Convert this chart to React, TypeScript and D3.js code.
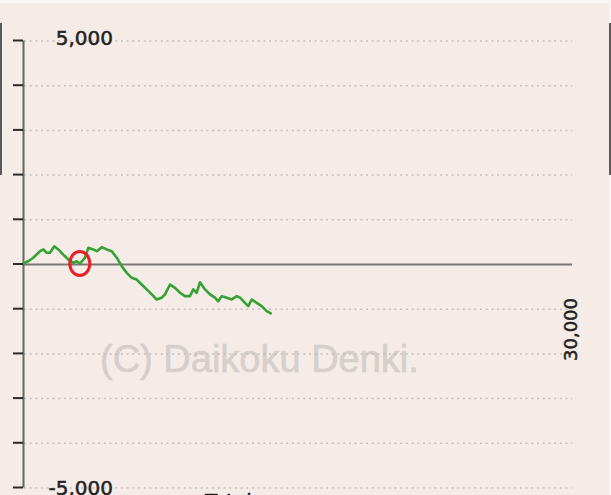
import React, { useEffect, useRef } from "react";
import * as d3 from "d3";

// games played (x) and medal difference (y)
const games = [
  0, 290, 560, 930, 1110, 1295, 1475, 1710, 1930, 2200, 2475, 2750, 2935, 3115,
  3390, 3570, 3840, 4030, 4300, 4575, 4850, 5120, 5395, 5670, 5940, 6215, 6485,
  6760, 7035, 7305, 7580, 7760, 8035, 8305, 8580, 8850, 9125, 9305, 9490, 9670,
  9945, 10220, 10490, 10670, 10860, 11130, 11405, 11680, 11860, 12130, 12310,
  12500, 12770, 13045, 13315, 13590,
];
const medals = [
  0, 50, 130, 275, 315, 240, 240, 385, 315, 200, 90, 15, 50, 0, 130, 350, 315,
  275, 365, 315, 275, 130, -60, -210, -320, -360, -470, -580, -690, -805, -765,
  -690, -470, -545, -655, -730, -730, -580, -655, -420, -580, -690, -765, -845,
  -730, -765, -805, -730, -765, -880, -955, -805, -880, -955, -1065, -1125,
];
const yTicks = [5000, 4000, 3000, 2000, 1000, 0, -1000, -2000, -3000, -4000, -5000];
const yLabels = ["5,000", "-5,000"];
const xMaxLabel = "30,000";
const xMax = 30000;
const markedGame = 3050;
const watermark = "(C) Daikoku Denki.";
const bottomTitle = "Total";

export default function App() {
  const svgRef = useRef<SVGSVGElement>(null);

  useEffect(() => {
    document.body.style.margin = "0";
    const svg = d3.select(svgRef.current);
    svg.selectAll("*").remove();

    const x = d3.scaleLinear().domain([0, xMax]).range([23, 572]);
    const y = d3.scaleLinear().domain([5000, -5000]).range([40, 487]);

    svg.append("rect").attr("width", 611).attr("height", 495).attr("fill", "#f9f7f6");
    svg.append("rect").attr("x", 0).attr("y", 3).attr("width", 609).attr("height", 492).attr("fill", "#f5ece8");

    // edge fragments of neighbouring panels
    svg.append("rect").attr("x", 0).attr("y", 23).attr("width", 2).attr("height", 152).attr("fill", "#5a5a5a");
    svg.append("rect").attr("x", 609).attr("y", 23).attr("width", 2).attr("height", 152).attr("fill", "#5a5a5a");

    // watermark
    svg.append("text")
      .attr("x", 100).attr("y", 372)
      .attr("font-family", "Liberation Sans, Arial, sans-serif")
      .attr("font-size", 38)
      .attr("fill", "#d6cfcb")
      .attr("stroke", "#d6cfcb")
      .attr("stroke-width", 0.6)
      .text(watermark);

    // dotted grid
    svg.append("g")
      .selectAll("line")
      .data(yTicks.filter((d) => d !== 0))
      .enter()
      .append("line")
      .attr("x1", x(0) + 1)
      .attr("x2", x(xMax))
      .attr("y1", (d) => y(d) + 1)
      .attr("y2", (d) => y(d) + 1)
      .attr("stroke", "#c4bfbc")
      .attr("stroke-width", 1.5)
      .attr("stroke-dasharray", "2,3.7");

    // zero line
    svg.append("line")
      .attr("x1", x(0)).attr("x2", x(xMax))
      .attr("y1", y(0) + 1).attr("y2", y(0) + 1)
      .attr("stroke", "#7a7676").attr("stroke-width", 2);

    // y axis
    const axis = svg.append("g")
      .attr("transform", `translate(${x(0)},0)`)
      .call(d3.axisLeft(y).tickValues(yTicks).tickSize(10).tickSizeOuter(0).tickFormat(() => ""));
    axis.select(".domain").attr("stroke", "#666").attr("stroke-width", 2);
    axis.selectAll(".tick line").attr("stroke", "#2a2a2a").attr("stroke-width", 2);

    const labelStyle = (t: any) =>
      t.attr("font-family", "DejaVu Sans, sans-serif")
        .attr("font-size", 20)
        .attr("fill", "#222")
        .attr("stroke", "#222")
        .attr("stroke-width", 0.5);

    svg.append("text").attr("x", 113).attr("y", 45).attr("text-anchor", "end").call(labelStyle).text(yLabels[0]);
    svg.append("text").attr("x", 113).attr("y", 495).attr("text-anchor", "end").call(labelStyle).text(yLabels[1]);
    svg.append("text")
      .attr("transform", `translate(${x(xMax) + 5},361) rotate(-90)`)
      .call(labelStyle)
      .attr("font-size", 18)
      .text(xMaxLabel);
    svg.append("text").attr("x", 205).attr("y", 508).call(labelStyle).text(bottomTitle);

    // data line
    const pts = games.map((g, i) => [g, medals[i]] as [number, number]);
    svg.append("path")
      .datum(pts)
      .attr("d", d3.line<[number, number]>().x((d) => x(d[0])).y((d) => y(d[1])))
      .attr("fill", "none")
      .attr("stroke", "#33a233")
      .attr("stroke-width", 2.6)
      .attr("stroke-linejoin", "round");

    // red marker
    svg.append("ellipse")
      .attr("cx", x(markedGame) + 1)
      .attr("cy", y(0))
      .attr("rx", 10)
      .attr("ry", 12)
      .attr("fill", "none")
      .attr("stroke", "#e8202a")
      .attr("stroke-width", 3);
  }, []);

  return <svg ref={svgRef} width={611} height={495} style={{ display: "block" }} />;
}
